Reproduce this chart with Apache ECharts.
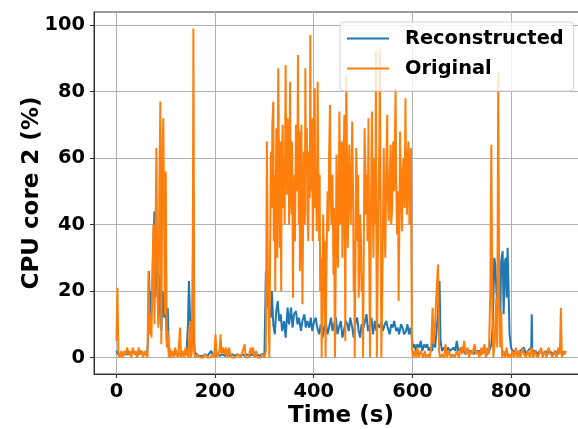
<!DOCTYPE html>
<html>
<head>
<meta charset="utf-8">
<script src="https://cdn.jsdelivr.net/npm/echarts@6/dist/echarts.min.js"></script>
<style>
  html, body { margin: 0; padding: 0; background: #fff; }
  #chart { width: 578px; height: 429px; }
</style>
</head>
<body>
<div id="chart"></div>
<script>
// values, [time (s), CPU %]
const original = [
  [0,5],[2,21],[4,1],[7,0],[10,2],[13,0],[16,2],[19,1],[22,3],[24,1],[27,2],[30,0],[33,3],[36,1],[39,2],[42,0],
  [45,3],[48,1],[51,2],[54,0],[57,2],[60,1],[63,0],[65,26],[67,7],[69,13],[71,6],[73,25],[75,40],[77,10],[79,35],
  [81,63],[83,20],[85,9],[87,50],[89,77],[91,4],[93,60],[95,72],[97,35],[98,13],[100,56],[102,3],[104,8],[106,0],
  [108,3],[110,0],[113,2],[116,0],[119,3],[122,1],[125,0],[129,9],[131,0],[134,2],[137,0],[140,3],[143,1],[146,0],
  [149,11],[151,0],[153,2],[155,40],[156,99],[158,1],[160,0],[165,1],[170,0],[175,0],[180,1],[185,0],[190,0],[195,1],
  [198,0],[201,7],[203,0],[206,1],[209,2],[211,7],[213,1],[216,3],[219,1],[222,3],[225,0],[228,3],[231,1],[234,0],
  [240,0],[246,1],[252,0],[256,0],[260,4],[262,0],[268,0],[272,3],[274,1],[277,3],[280,0],[283,2],[286,0],[292,0],
  [297,1],[300,0],[303,2],[305,65],[307,27],[310,0],[312,40],[313,62],[315,45],[316,70],[318,77],[319,35],[321,55],
  [322,20],[324,69],[325,45],[326,30],[327,60],[328,87],[330,50],[331,33],[332,65],[334,20],[335,58],[337,70],
  [338,45],[340,60],[341,40],[343,88],[344,62],[346,49],[347,72],[349,65],[350,40],[352,83],[353,55],[355,43],
  [356,65],[358,18],[359,48],[361,55],[362,35],[364,70],[365,50],[367,60],[368,91],[369,55],[370,40],[371,68],
  [372,26],[374,52],[375,70],[376,45],[377,16],[379,50],[380,62],[382,40],[383,87],[384,58],[386,69],[387,45],
  [389,35],[390,62],[392,48],[393,97],[394,60],[396,50],[397,72],[398,35],[400,55],[402,81],[403,45],[405,55],
  [406,38],[408,83],[409,60],[411,35],[412,55],[413,20],[415,30],[416,0],[418,25],[419,43],[421,30],[422,10],
  [423,35],[424,0],[426,30],[428,50],[430,38],[431,60],[433,76],[434,50],[436,40],[438,55],[440,25],[441,45],
  [443,0],[445,35],[446,61],[448,45],[449,27],[451,55],[452,74],[454,40],[455,58],[457,65],[458,30],[460,50],
  [462,73],[463,40],[464,5],[465,60],[466,85],[468,50],[469,33],[471,55],[472,64],[474,45],[475,40],[477,60],
  [478,71],[480,45],[481,20],[482,35],[483,0],[485,40],[486,63],[488,50],[489,35],[490,55],[491,18],[493,30],
  [494,43],[496,35],[497,20],[499,25],[500,0],[502,45],[503,69],[505,55],[506,43],[508,55],[509,35],[511,72],
  [512,40],[514,0],[516,45],[518,74],[519,55],[521,30],[522,45],[523,60],[525,40],[526,92],[527,35],[528,0],
  [530,30],[531,45],[533,65],[534,93],[536,30],[537,0],[539,20],[540,35],[542,63],[543,45],[545,30],[547,55],
  [549,73],[550,50],[552,41],[554,55],[556,64],[557,40],[559,45],[561,65],[563,50],[564,60],[566,81],[567,55],
  [569,37],[571,50],[572,17],[574,45],[575,68],[577,50],[579,38],[580,55],[582,60],[584,45],[586,78],[587,55],
  [589,43],[590,60],[592,65],[594,40],[595,55],[597,63],[598,30],[599,3],[601,0],[604,2],[607,0],[610,3],[613,0],
  [616,2],[619,1],[622,0],[625,2],[628,0],[632,1],[635,0],[638,3],[641,15],[643,4],[646,10],[649,20],[652,28],
  [654,2],[656,0],[660,1],[664,0],[667,4],[670,0],[674,2],[678,0],[682,1],[686,0],[690,2],[694,0],[698,3],[701,1],
  [705,5],[708,1],[712,3],[715,0],[718,2],[722,1],[726,4],[729,1],[732,2],[736,0],[740,3],[743,1],[746,4],[749,0],
  [752,3],[755,1],[758,20],[760,64],[762,15],[764,0],[767,5],[770,18],[772,3],[774,86],[776,18],[778,3],[780,14],
  [782,0],[785,2],[788,0],[791,3],[794,0],[797,1],[800,0],[803,2],[806,0],[810,3],[813,0],[816,2],[819,0],[823,3],
  [826,1],[830,0],[834,2],[838,0],[842,3],[845,0],[849,2],[853,0],[857,1],[861,3],[864,0],[868,2],[872,0],[876,3],
  [880,1],[884,0],[888,2],[892,0],[896,3],[899,1],[901,15],[903,0],[906,2],[909,1],[911,2]
]

const reconstructed = [
  [0,2],[3,1],[6,0.5],[10,1],[14,0.5],[18,1],[22,1.5],[26,1],[30,1],[34,2],[38,1],[42,1.5],[46,1],[50,2],[54,1],
  [58,1.5],[62,1],[64,5],[66,26],[68,12],[70,20],[72,14],[74,30],[77,44],[79,18],[81,28],[83,30],[85,10],[88,25],
  [91,8],[94,20],[97,12],[100,15],[102,5],[104,15],[106,3],[110,1],[114,0.5],[118,1],[122,0.5],[126,1],[130,1.5],
  [134,1],[138,0.5],[142,1],[145,10],[147,23],[149,13],[151,3],[153,5],[155,20],[157,5],[159,1.5],[162,1],[166,0.5],
  [170,1],[175,0.5],[180,1],[185,0.5],[189,1],[192,2],[195,1],[200,0.5],[205,1],[210,0.5],[215,1],[220,0.5],
  [225,1],[230,0.5],[235,1],[240,0.5],[245,1],[250,0.5],[255,1],[260,0.5],[265,1],[270,0.5],[275,1],[280,0.5],
  [285,1],[290,0.5],[295,1],[300,1],[303,26],[305,15],[307,20],[310,17],[313,12],[315,20],[318,10],[321,7],
  [324,14],[327,17],[330,11],[333,13],[336,8],[340,11],[343,6],[347,15],[350,10],[354,15],[357,9],[360,13],
  [364,14],[367,10],[370,12],[374,8],[377,11],[381,13],[384,9],[387,11],[391,9],[394,12],[397,8],[401,11],
  [404,12],[407,9],[411,7],[414,10],[418,6],[421,9],[424,11],[428,7],[431,9],[435,12],[438,8],[441,10],[445,12],
  [448,7],[451,9],[455,11],[458,6],[461,8],[465,11],[468,10],[471,8],[474,12],[478,9],[481,6],[484,10],[488,12],
  [491,8],[494,6],[497,10],[501,9],[504,11],[507,13],[510,8],[514,10],[517,12],[520,7],[524,11],[527,8],[530,10],
  [534,9],[537,11],[540,8],[544,10],[547,11],[550,9],[554,7],[557,10],[560,9],[563,11],[567,8],[570,9],[573,7],
  [577,10],[580,9],[583,7],[587,8],[590,10],[593,7],[596,9],[599,6],[601,3],[604,4],[607,2],[610,4],[614,3],
  [617,5],[620,2],[624,4],[627,3],[630,4],[633,2],[636,3],[640,2],[643,6],[646,3],[649,8],[652,14],[655,23],
  [657,5],[660,2],[664,3],[668,1.5],[672,3],[676,2],[680,1.5],[684,3],[687,2],[690,5],[693,2],[697,1.5],[700,3],
  [704,2],[708,1],[712,2],[716,1.5],[720,2],[724,1],[728,2],[732,1.5],[736,2],[740,1],[744,2],[748,1.5],[752,1],
  [756,2],[760,4],[763,10],[766,30],[768,28],[770,21],[772,15],[774,27],[776,20],[778,10],[780,29],[783,32],
  [785,13],[787,28],[789,30],[791,18],[793,33],[795,20],[797,7],[800,3],[803,2],[806,1.5],[810,2],[814,1],[818,2],
  [822,1.5],[826,3],[830,1],[834,2],[838,1.5],[841,3],[842,13],[843,2],[846,1.5],[850,2],[854,1],[858,2],
  [862,1.5],[866,1],[870,2],[874,1],[878,2],[882,1.5],[886,1],[890,2],[894,1],[898,1.5],[902,2],[906,1],[911,1.5]
]

const xTicks = [0, 200, 400, 600, 800]
const yTicks = [0, 20, 40, 60, 80, 100]

const FONT = 'DejaVu Sans'
const chart = echarts.init(document.getElementById('chart'), null, { renderer: 'canvas' })

chart.setOption({
  animation: false,
  backgroundColor: '#fff',
  grid: {
    left: 94, top: 12, width: 494, height: 362,
    containLabel: false,
    outerBoundsMode: 'none',
    show: true, borderColor: '#333', borderWidth: 1, backgroundColor: 'transparent'
  },
  legend: {
    data: ['Reconstructed', 'Original'],
    orient: 'vertical',
    left: 340,
    top: 22,
    icon: 'rect',
    itemWidth: 42,
    itemHeight: 2,
    itemGap: 7,
    padding: [5, 10, 11, 7],
    backgroundColor: 'rgba(255,255,255,0.8)',
    borderColor: '#d4d4d4',
    borderWidth: 1,
    borderRadius: 4,
    textStyle: {
      fontFamily: FONT, fontWeight: 'bold', fontSize: 19.4, color: '#000',
      lineHeight: 23, padding: [0, 0, 0, 11]
    }
  },
  xAxis: {
    type: 'value',
    min: -45.5,
    max: 956,
    name: 'Time (s)',
    nameLocation: 'middle',
    nameGap: 31,
    nameMoveOverlap: false,
    nameTextStyle: { fontFamily: FONT, fontWeight: 'bold', fontSize: 23, color: '#000' },
    axisLine: { show: true, onZero: false, lineStyle: { color: '#333', width: 1 } },
    axisTick: { show: true, customValues: xTicks, length: 4, lineStyle: { color: '#333' } },
    axisLabel: {
      customValues: xTicks, margin: 8,
      fontFamily: FONT, fontWeight: 'bold', fontSize: 19.4, color: '#000'
    },
    splitLine: { show: true, lineStyle: { color: '#b0b0b0', width: 1 } }
  },
  yAxis: {
    type: 'value',
    min: -4.95,
    max: 103.95,
    name: 'CPU core 2 (%)',
    nameLocation: 'middle',
    nameGap: 50,
    nameMoveOverlap: false,
    nameTextStyle: { fontFamily: FONT, fontWeight: 'bold', fontSize: 23, color: '#000' },
    axisLine: { show: true, onZero: false, lineStyle: { color: '#333', width: 1 } },
    axisTick: { show: true, customValues: yTicks, length: 4, lineStyle: { color: '#333' } },
    axisLabel: {
      customValues: yTicks, margin: 9,
      fontFamily: FONT, fontWeight: 'bold', fontSize: 19.4, color: '#000'
    },
    splitLine: { show: true, lineStyle: { color: '#b0b0b0', width: 1 } }
  },
  series: [
    {
      name: 'Reconstructed',
      type: 'line',
      data: reconstructed,
      symbol: 'none',
      color: '#1f77b4',
      lineStyle: { color: '#1f77b4', width: 2 }
    },
    {
      name: 'Original',
      type: 'line',
      data: original,
      symbol: 'none',
      color: '#ff7f0e',
      lineStyle: { color: '#ff7f0e', width: 2 }
    }
  ]
})
</script>
</body>
</html>
